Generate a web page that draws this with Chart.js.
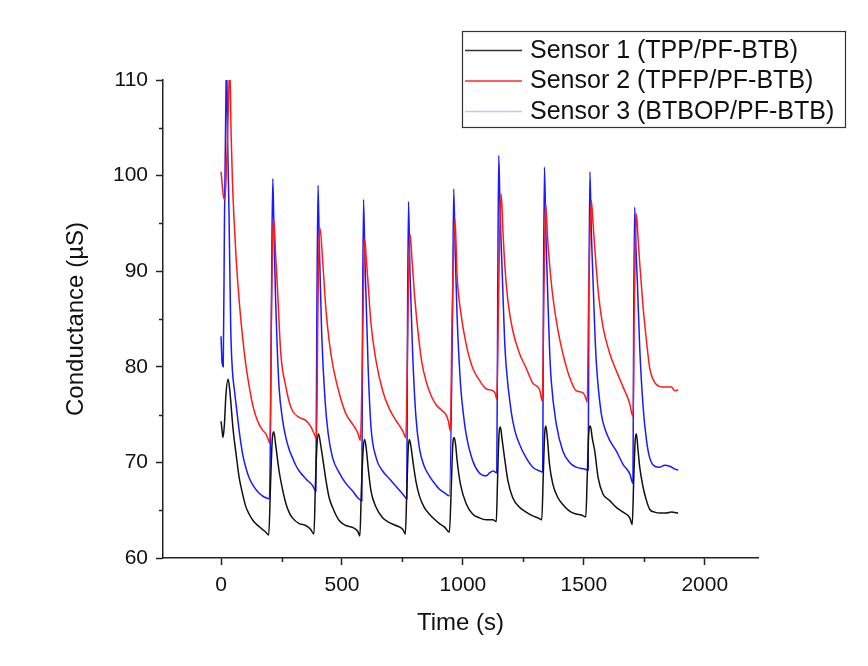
<!DOCTYPE html>
<html><head><meta charset="utf-8">
<script src="https://cdn.jsdelivr.net/npm/chart.js@4.4.1/dist/chart.umd.min.js"></script>
<style>html,body{margin:0;padding:0;background:#fff;}#wrap{width:868px;height:666px;}</style>
</head><body><div id="wrap"><canvas id="c" width="868" height="666"></canvas></div>
<script>
// ---- Data ----
const sensorNames = ['Sensor 1 (TPP/PF-BTB)', 'Sensor 2 (TPFP/PF-BTB)', 'Sensor 3 (BTBOP/PF-BTB)'];
const xTickValues = [0, 500, 1000, 1500, 2000];
const xMinorValues = [250, 750, 1250, 1750];
const yTickValues = [60, 70, 80, 90, 100, 110];
const yMinorValues = [65, 75, 85, 95, 105];

const sensor1Time = [
  0,4,8,14,20,29,36,42,50,62,75,89,102,116,130,143,157,171,185,197,
  205,212,218,226,240,254,268,281,295,323,350,370,384,
  390,397,403,411,420,434,447,461,475,489,516,544,565,574,
  580,588,594,601,608,620,641,668,696,723,751,762,
  768,774,779,786,795,806,820,840,861,880,903,925,944,
  952,958,964,970,976,990,1013,1040,1068,1096,1124,1138,
  1143,1149,1155,1162,1172,1186,1206,1234,1261,1289,1310,1326,
  1332,1338,1343,1350,1358,1372,1393,1413,1441,1468,1490,1508,
  1514,1520,1527,1535,1545,1559,1579,1607,1634,1662,1690,1700,
  1706,1712,1717,1724,1731,1745,1759,1772,1793,1814,1841,1862,1890
];
const sensor1Cond = [
  74.3,73.4,72.6,74.0,77.0,78.7,77.6,75.8,73.4,70.9,68.4,66.7,65.4,64.6,64.0,63.6,63.3,63.0,62.7,62.4,
  68.0,72.5,73.2,71.8,69.1,67.2,65.7,64.8,64.2,63.6,63.4,63.0,62.5,
  67.5,72.0,73.0,72.0,70.5,68.1,66.3,65.3,64.5,63.9,63.4,63.2,62.8,62.3,
  67.0,71.5,72.4,71.3,69.5,67.0,65.3,64.2,63.7,63.4,63.0,62.5,
  67.0,71.5,72.4,71.5,69.8,68.0,66.5,65.3,64.6,64.1,63.6,63.2,62.7,
  67.5,71.8,72.6,71.8,70.2,67.7,65.7,64.6,64.2,64.0,64.0,63.8,
  68.0,72.8,73.7,72.4,70.5,68.1,66.3,65.3,64.8,64.4,64.2,64.0,
  68.5,73.0,73.8,72.3,69.8,67.7,66.3,65.6,64.9,64.6,64.5,64.3,
  68.5,73.0,73.8,72.5,71.2,68.4,66.7,66.0,65.3,64.8,64.2,63.5,
  68.0,72.2,73.0,71.3,69.5,67.4,66.0,65.1,64.8,64.7,64.7,64.8,64.7
];

const sensor2Time = [
  0,5,10,16,24,30,36,42,47,54,62,75,89,102,116,130,143,157,171,185,195,202,
  208,213,218,226,233,247,268,281,295,323,350,370,385,395,
  400,405,409,420,434,447,461,489,516,544,565,576,
  585,590,594,600,608,620,641,668,696,723,751,764,
  771,776,781,790,800,815,830,850,870,890,910,930,940,948,
  955,961,967,976,990,1013,1040,1068,1096,1124,1134,1140,
  1148,1153,1158,1165,1172,1186,1206,1234,1261,1289,1317,1328,
  1335,1339,1342,1350,1358,1372,1393,1413,1441,1468,1496,1507,1514,
  1520,1526,1531,1538,1545,1559,1579,1607,1634,1662,1690,1698,1704,
  1708,1713,1717,1724,1731,1745,1759,1772,1786,1807,1827,1848,1862,1876,1890
];
const sensor2Cond = [
  100.4,99.0,97.8,97.5,102.0,107.0,111.5,104.0,99.5,95.3,91.5,86.9,83.1,80.3,78.0,76.1,74.9,74.0,73.4,73.0,72.4,72.0,
  85.0,93.0,95.5,91.5,88.3,81.4,77.9,76.4,75.4,74.7,74.4,73.8,73.0,72.5,
  85.0,93.0,94.5,91.1,85.9,82.7,80.3,77.2,75.1,74.0,73.1,72.3,
  82.0,90.0,93.4,91.5,88.7,84.5,80.6,77.5,75.6,74.4,73.3,72.6,
  82.0,90.0,93.9,91.0,87.5,83.5,80.5,78.3,76.9,76.0,75.5,75.0,74.3,73.3,
  85.0,92.0,95.5,89.5,85.9,82.4,79.9,78.6,77.7,77.5,77.2,76.6,
  88.0,95.0,98.1,94.5,91.1,86.9,83.8,81.4,79.9,78.3,77.6,76.4,
  88.0,94.0,97.1,93.5,90.8,87.3,83.8,81.4,78.9,77.5,77.3,76.8,76.3,
  88.0,94.5,97.4,95.0,92.5,88.0,84.2,81.4,79.6,77.9,76.1,75.1,74.8,
  85.0,93.0,96.0,93.5,90.8,86.2,82.7,79.9,78.7,78.0,77.9,77.9,77.9,77.5,77.6
];

const sensor3Time = [
  0,4,9,14,20,23,27,33,40,47,55,62,75,89,102,116,130,143,157,171,185,200,
  205,210,214,219,226,233,240,254,268,281,295,309,323,350,378,392,
  396,401,406,416,430,443,461,489,516,544,569,582,
  585,589,595,608,620,641,668,696,723,751,768,
  771,775,781,792,805,820,840,861,880,903,925,944,
  957,962,968,976,990,1000,1013,1040,1068,1096,1110,1124,1140,
  1144,1148,1154,1158,1165,1172,1179,1199,1215,1234,1261,1289,1317,1330,
  1333,1337,1343,1351,1358,1365,1386,1413,1441,1468,1503,1518,
  1521,1525,1531,1538,1545,1552,1572,1590,1607,1634,1662,1690,1703,
  1706,1710,1716,1721,1731,1745,1759,1772,1793,1814,1834,1855,1876,1890
];
const sensor3Cond = [
  83.2,80.5,80.0,95.0,108.0,112.0,104.0,96.0,84.0,79.6,77.6,76.1,73.3,70.9,69.5,68.4,67.7,67.2,66.8,66.5,66.3,66.2,
  75.0,92.0,99.7,94.0,86.6,81.5,77.8,74.5,72.6,71.4,70.5,69.7,69.1,68.3,67.6,67.0,
  85.0,99.0,93.0,83.5,76.5,73.0,70.5,68.9,67.8,67.0,66.2,66.0,
  85.0,97.5,91.0,80.0,73.7,70.5,69.1,68.3,67.5,66.7,66.2,
  85.0,97.3,90.0,81.5,75.0,71.5,69.6,68.6,67.9,67.2,66.8,66.5,
  85.0,98.6,92.0,85.2,78.2,75.5,73.0,70.2,68.9,68.6,68.9,69.1,68.9,
  88.0,102.1,96.0,93.0,88.0,83.0,80.0,75.4,73.3,71.9,70.5,69.5,69.1,69.0,
  88.0,100.9,94.0,87.3,82.0,78.6,74.0,71.2,70.0,69.5,69.3,69.2,
  88.0,100.4,94.0,89.0,84.0,80.3,75.1,73.3,72.3,71.2,69.8,68.8,67.8,
  85.0,96.7,92.0,89.0,82.0,75.8,72.3,70.5,69.6,69.5,69.7,69.6,69.3,69.2
];

const seriesColors = ['#111111', '#ff1a1a', '#1a1aff'];
const legendSampleColors = ['#333333', '#ff2a2a', '#c4c4ec'];

// ---- Chart ----
const FONT = '"Liberation Sans", Arial, Helvetica, sans-serif';
const AXIS = '#222222';

function pts(t, v) { return t.map((x, i) => ({ x: x, y: v[i] })); }

const minorTicks = {
  id: 'minorTicks',
  afterDraw(chart) {
    const ctx = chart.ctx, a = chart.chartArea;
    const xs = chart.scales.x, ys = chart.scales.y;
    ctx.save();
    ctx.strokeStyle = AXIS; ctx.lineWidth = 1.5;
    xMinorValues.forEach(v => {
      const p = Math.round(xs.getPixelForValue(v)) + 0.5;
      ctx.beginPath(); ctx.moveTo(p, a.bottom); ctx.lineTo(p, a.bottom + 4); ctx.stroke();
    });
    yMinorValues.forEach(v => {
      const p = Math.round(ys.getPixelForValue(v)) + 0.5;
      ctx.beginPath(); ctx.moveTo(a.left, p); ctx.lineTo(a.left - 4, p); ctx.stroke();
    });
    ctx.restore();
  }
};

const legendBox = {
  id: 'legendBox',
  afterDraw(chart) {
    const ctx = chart.ctx;
    const L = 462, T = 31, W = 383, H = 96;
    ctx.save();
    ctx.fillStyle = '#ffffff';
    ctx.fillRect(L, T, W, H);
    ctx.strokeStyle = '#333333'; ctx.lineWidth = 1.2;
    ctx.strokeRect(L + 0.5, T + 0.5, W, H);
    ctx.font = '25px ' + FONT;
    ctx.textBaseline = 'middle';
    ctx.textAlign = 'left';
    chart.data.datasets.forEach((ds, i) => {
      const y = T + 19 + i * 30.5;
      ctx.strokeStyle = legendSampleColors[i]; ctx.lineWidth = 1.5;
      ctx.beginPath(); ctx.moveTo(L + 3, y + 0.5); ctx.lineTo(L + 60, y + 0.5); ctx.stroke();
      ctx.fillStyle = '#111111';
      ctx.fillText(ds.label, L + 68, y + 1);
    });
    ctx.restore();
  }
};

const datasets = [
  { label: sensorNames[0], data: pts(sensor1Time, sensor1Cond), borderColor: seriesColors[0] },
  { label: sensorNames[1], data: pts(sensor2Time, sensor2Cond), borderColor: seriesColors[1] },
  { label: sensorNames[2], data: pts(sensor3Time, sensor3Cond), borderColor: seriesColors[2] }
].map(d => Object.assign(d, { borderWidth: 1.5, pointRadius: 0, fill: false, cubicInterpolationMode: 'monotone' }));

new Chart(document.getElementById('c'), {
  type: 'line',
  data: { datasets: datasets },
  options: {
    responsive: false, animation: false, devicePixelRatio: 1,
    layout: { padding: { left: 0, right: 110, top: 80, bottom: 0 } },
    plugins: { legend: { display: false }, tooltip: { enabled: false } },
    scales: {
      x: {
        type: 'linear', min: -240, max: 2220,
        afterBuildTicks: s => { s.ticks = xTickValues.map(v => ({ value: v })); },
        afterFit: s => { s.height = 108; },
        grid: { drawOnChartArea: false, tickLength: 7, tickColor: AXIS, tickWidth: 1.5 },
        border: { color: AXIS, width: 1.5 },
        ticks: { font: { family: FONT, size: 21 }, color: '#111', padding: 8, maxRotation: 0, autoSkip: false, callback: v => String(v) },
        title: { display: true, text: 'Time (s)', font: { family: FONT, size: 24 }, color: '#111', padding: { top: 0, bottom: 28 } }
      },
      y: {
        type: 'linear', min: 60, max: 110,
        afterBuildTicks: s => { s.ticks = yTickValues.map(v => ({ value: v })); },
        afterFit: s => { s.width = 163; },
        grid: { drawOnChartArea: false, tickLength: 7, tickColor: AXIS, tickWidth: 1.5 },
        border: { color: AXIS, width: 1.5 },
        ticks: { font: { family: FONT, size: 21 }, color: '#111', padding: 8, autoSkip: false, callback: v => String(v) },
        title: { display: true, text: 'Conductance (\u00b5S)', font: { family: FONT, size: 24 }, color: '#111', padding: { top: 62, bottom: 0 } }
      }
    }
  },
  plugins: [minorTicks, legendBox]
});
</script></body></html>
